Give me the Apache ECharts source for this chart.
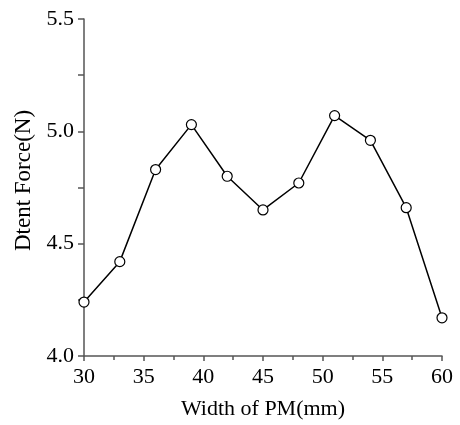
<!DOCTYPE html>
<html>
<head>
<meta charset="utf-8">
<script src="https://cdn.jsdelivr.net/npm/echarts@6/dist/echarts.min.js"></script>
<style>html,body{margin:0;padding:0;background:#fff}#c{width:460px;height:425px}</style>
</head>
<body>
<div id="c"></div>
<script>
var widths = [30, 33, 36, 39, 42, 45, 48, 51, 54, 57, 60];
var forces = [4.24, 4.42, 4.83, 5.03, 4.80, 4.65, 4.77, 5.07, 4.96, 4.66, 4.17];
var xTitle = 'Width of PM(mm)';
var yTitle = 'Dtent Force(N)';

var font = 'Liberation Serif';
var axisCol = '#555';
var chart = echarts.init(document.getElementById('c'), null, {renderer: 'canvas'});
chart.setOption({
  animation: false,
  backgroundColor: '#fff',
  grid: {left: 84, right: 18, top: 19, bottom: 68},
  xAxis: {
    type: 'value', min: 30, max: 60, interval: 5,
    name: xTitle, nameLocation: 'middle', nameGap: 42,
    nameTextStyle: {fontFamily: font, fontSize: 22, color: '#000'},
    axisLine: {lineStyle: {color: axisCol, width: 1.5}},
    axisTick: {show: true, inside: false, length: 5, lineStyle: {color: axisCol, width: 1.5}},
    minorTick: {show: true, splitNumber: 2, length: 4, lineStyle: {color: axisCol, width: 1.5}},
    axisLabel: {fontFamily: font, fontSize: 22, color: '#000', margin: 10},
    splitLine: {show: false}
  },
  yAxis: {
    type: 'value', min: 4.0, max: 5.5, interval: 0.5,
    name: yTitle, nameLocation: 'middle', nameGap: 47, nameRotate: 90,
    nameTextStyle: {fontFamily: font, fontSize: 23, color: '#000', padding: [0, 0, 0, 14]},
    axisLine: {show: true, lineStyle: {color: axisCol, width: 1.5}},
    axisTick: {show: true, inside: false, length: 6, lineStyle: {color: axisCol, width: 1.5}},
    minorTick: {show: true, splitNumber: 2, length: 6, lineStyle: {color: axisCol, width: 1.5}},
    axisLabel: {fontFamily: font, fontSize: 22, color: '#000', margin: 10,
      formatter: function (v) { return v.toFixed(1); }},
    splitLine: {show: false}
  },
  series: [{
    type: 'line',
    data: widths.map(function (w, i) { return [w, forces[i]]; }),
    symbol: 'circle', symbolSize: 10,
    itemStyle: {color: '#fff', borderColor: '#000', borderWidth: 1.2},
    lineStyle: {color: '#000', width: 1.5},
    clip: true,
    z: 1
  }]
});
</script>
</body>
</html>
